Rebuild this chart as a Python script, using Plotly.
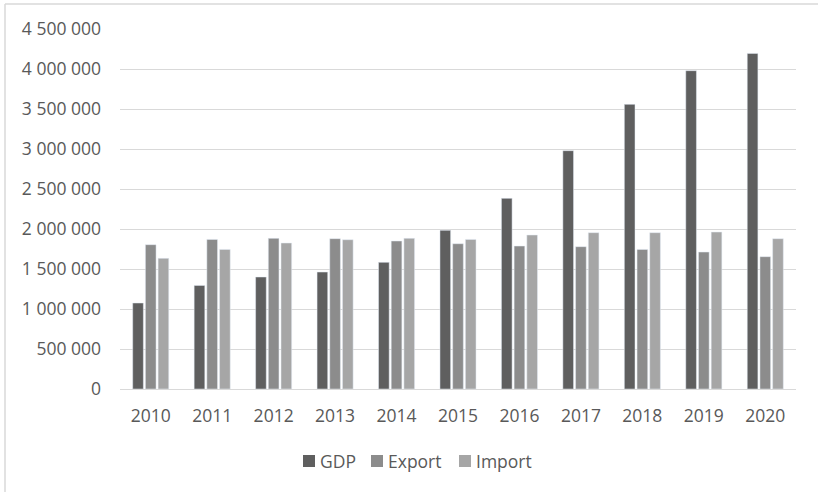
import plotly.graph_objects as go

years = ["2010", "2011", "2012", "2013", "2014", "2015", "2016", "2017", "2018", "2019", "2020"]
gdp = [1075000, 1295000, 1400000, 1462000, 1583000, 1983000, 2383000, 2979000, 3558000, 3979000, 4195000]
export = [1804000, 1870000, 1883000, 1879000, 1850000, 1816000, 1787000, 1779000, 1745000, 1712000, 1654000]
imports = [1633000, 1745000, 1825000, 1866000, 1883000, 1870000, 1925000, 1954000, 1954000, 1962000, 1879000]
y_ticks = [0, 500000, 1000000, 1500000, 2000000, 2500000, 3000000, 3500000, 4000000, 4500000]
series_names = ["GDP", "Export", "Import"]
colors = ["#5f5f5f", "#8c8c8c", "#a6a6a6"]

fig = go.Figure()
for name, vals, col in zip(series_names, [gdp, export, imports], colors):
    fig.add_trace(go.Bar(name=name, x=years, y=vals, marker_color=col, showlegend=False))

# plot area geometry (pixels) for placing the manual legend
L, R, T, B = 120, 22, 29, 103
PW, PH = 818 - L - R, 492 - T - B
def px(x): return (x - L) / PW
def py(y): return (492 - B - y) / PH

border = dict(color="#d9d9d9", width=1.5)
shapes = [
    dict(type="line", xref="paper", yref="paper", x0=px(5), x1=px(840), y0=py(4), y1=py(4), line=border),
    dict(type="line", xref="paper", yref="paper", x0=px(5), x1=px(5), y0=py(4), y1=py(510), line=border),
]
annotations = []
leg_sq_x = [303, 371, 459]
for name, col, sx in zip(series_names, colors, leg_sq_x):
    shapes.append(dict(type="rect", xref="paper", yref="paper", x0=px(sx), x1=px(sx + 12),
                       y0=py(467), y1=py(455), fillcolor=col, line=dict(width=0)))
    annotations.append(dict(xref="paper", yref="paper", x=px(sx + 14.5), y=py(460.5), text=name,
                            showarrow=False, xanchor="left", yanchor="middle",
                            font=dict(size=17.5, color="#595959")))

fig.update_layout(
    width=818, height=492,
    margin=dict(l=L, r=R, t=T, b=B),
    paper_bgcolor="white", plot_bgcolor="white",
    font=dict(family="Open Sans", size=17.5, color="#595959"),
    separators=". ",
    barmode="group", bargap=0.38, bargroupgap=0.16,
    showlegend=False,
    shapes=shapes, annotations=annotations,
)
fig.update_yaxes(range=[0, 4500000], tickvals=y_ticks, tickformat=",d",
                 showgrid=True, gridcolor="#d9d9d9", gridwidth=1,
                 zeroline=True, zerolinecolor="#d9d9d9", zerolinewidth=1,
                 showline=False, ticks="", ticklabelstandoff=18)
fig.update_xaxes(showgrid=False, showline=False, ticks="", ticklabelstandoff=14)

fig.write_html("out.html", config={"displayModeBar": False},
               post_script="document.body.style.margin='0';")
